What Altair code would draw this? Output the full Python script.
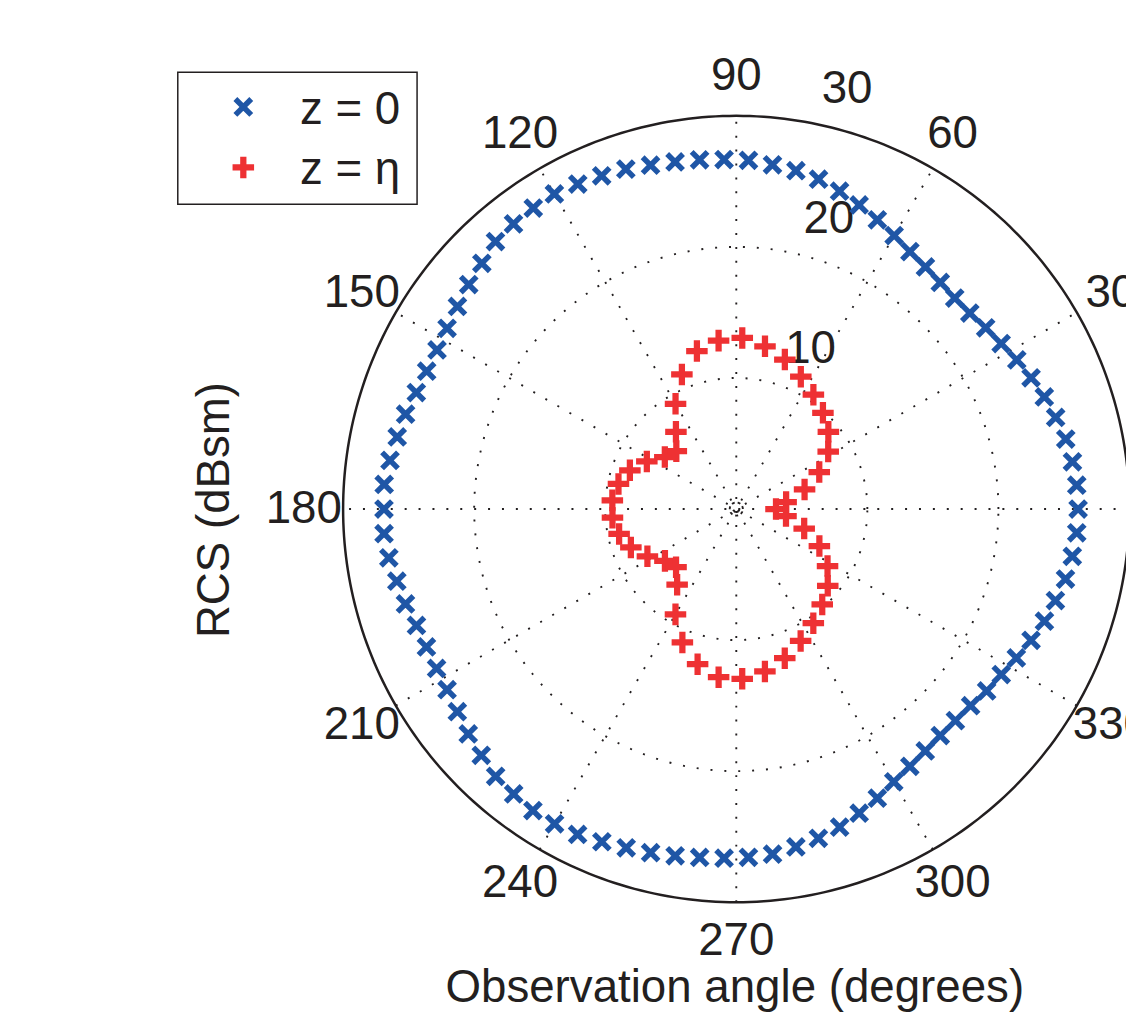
import altair as alt
import pandas as pd

# ---------------- data ----------------
angle_blue = list(range(0, 360, 4))
rcs_blue = [
    26.08, 26.04, 25.90, 25.70, 25.35, 25.01, 24.62, 24.24, 23.83, 23.52,
    23.26, 23.17, 23.26, 23.44, 23.69, 24.09, 24.55, 25.02, 25.50, 25.94,
    26.21, 26.41, 26.62, 26.68, 26.79, 26.89, 27.04, 27.27, 27.42, 27.59,
    27.76, 27.70, 27.61, 27.46, 26.99, 26.65, 26.30, 26.02, 25.86, 25.86,
    25.98, 26.25, 26.45, 26.68, 26.93, 26.88, 26.94, 26.77, 26.48, 26.26,
    25.97, 25.88, 25.90, 26.02, 26.31, 26.70, 27.05, 27.44, 27.59, 27.75,
    27.73, 27.62, 27.38, 27.18, 27.02, 26.87, 26.73, 26.66, 26.59, 26.48,
    26.18, 25.89, 25.52, 25.03, 24.55, 24.03, 23.68, 23.42, 23.26, 23.24,
    23.34, 23.61, 23.84, 24.20, 24.62, 25.02, 25.33, 25.68, 25.89, 26.04,
]
angle_red = list(range(0, 360, 8))
rcs_red = [
    3.03, 3.84, 5.42, 6.93, 8.27, 9.17, 9.88, 10.52, 11.23, 11.99,
    12.61, 13.06, 12.92, 12.42, 11.08, 9.27, 7.48, 6.36, 6.74, 7.73,
    8.64, 9.19, 9.48, 9.47, 9.14, 8.56, 7.68, 6.73, 6.39, 7.33,
    9.28, 10.98, 12.20, 12.90, 12.96, 12.58, 11.97, 11.20, 10.51, 9.80,
    9.11, 8.21, 6.94, 5.39, 3.83,
]
series_labels = ["z = 0", "z = \u03b7"]
ring_values = [0.5, 10, 20]
outer_ring = 30
spoke_angles = [30, 60, 90, 120, 150, 180]
angle_labels = [0, 30, 60, 90, 120, 150, 180, 210, 240, 270, 300, 330]
ring_label_values = [10, 20, 30]
xlabel = "Observation angle (degrees)"
ylabel = "RCS (dBsm)"

# ---------------- style ----------------
BLUE = "#1f56a6"
RED = "#ee3133"
INK = "#231f20"
FONT = "Liberation Sans"
FS = 46
PX = 13.2                      # pixels per dB unit
W, H = 1126, 1011
CX, CY = 733.5, 501            # centre of the polar plot in view pixels
XPATH = "M-1,-1L1,1M-1,1L1,-1"
PPATH = "M-1,0L1,0M0,-1L0,1"

xsc = alt.Scale(domain=[-CX / PX, (W - CX) / PX], nice=False, zero=False)
ysc = alt.Scale(domain=[-(H - CY) / PX, CY / PX], nice=False, zero=False)


def X(f="x"):
    return alt.X(f"{f}:Q", scale=xsc, axis=None)


def Y(f="y"):
    return alt.Y(f"{f}:Q", scale=ysc, axis=None)


def ring(r, **style):
    return (
        alt.Chart(alt.sequence(0, 361, 1, as_="t"))
        .transform_calculate(
            x=f"{r}*cos(datum.t*PI/180)", y=f"{r}*sin(datum.t*PI/180)"
        )
        .mark_line(color=INK, **style)
        .encode(x=X(), y=Y(), order="t:Q")
    )


layers = []
for rv in ring_values:
    dash = [3, 3] if rv < 1 else [2, 12]
    layers.append(ring(rv, strokeDash=dash, strokeWidth=1.9))
layers.append(ring(outer_ring, strokeWidth=2.5))

spokes = (
    alt.Chart(pd.DataFrame({"a": spoke_angles}))
    .transform_calculate(
        x=f"-{outer_ring}*cos(datum.a*PI/180)",
        x2=f"{outer_ring}*cos(datum.a*PI/180)",
        y=f"-{outer_ring}*sin(datum.a*PI/180)",
        y2=f"{outer_ring}*sin(datum.a*PI/180)",
    )
    .mark_rule(color=INK, strokeDash=[2, 12], strokeWidth=1.9)
    .encode(x=X(), x2="x2:Q", y=Y(), y2="y2:Q")
)
layers.append(spokes)

ang_text = (
    alt.Chart(pd.DataFrame({"a": angle_labels}))
    .transform_calculate(
        x=f"{1.1 * outer_ring}*cos(datum.a*PI/180)",
        y=f"{1.1 * outer_ring}*sin(datum.a*PI/180)",
        label="toString(datum.a)",
    )
    .mark_text(font=FONT, fontSize=FS, align="center", baseline="middle", color=INK)
    .encode(x=X(), y=Y(), text="label:N")
)
layers.append(ang_text)

ring_text = (
    alt.Chart(pd.DataFrame({"r": ring_label_values}))
    .transform_calculate(
        x="(datum.r+0.5)*cos(82*PI/180)",
        y="(datum.r+0.5)*sin(82*PI/180)",
        label="toString(datum.r)",
    )
    .mark_text(font=FONT, fontSize=FS, align="left", baseline="bottom", dx=30, color=INK)
    .encode(x=X(), y=Y(), text="label:N")
)
layers.append(ring_text)

blue_df = pd.DataFrame({"angle": angle_blue, "rcs": rcs_blue})
red_df = pd.DataFrame({"angle": angle_red, "rcs": rcs_red})
calc = dict(
    x="datum.rcs*cos(datum.angle*PI/180)", y="datum.rcs*sin(datum.angle*PI/180)"
)
pts_blue = (
    alt.Chart(blue_df)
    .transform_calculate(**calc)
    .mark_point(shape=XPATH, filled=False, size=256, strokeWidth=5.5, color=BLUE, opacity=1)
    .encode(x=X(), y=Y())
)
pts_red = (
    alt.Chart(red_df)
    .transform_calculate(**calc)
    .mark_point(shape=PPATH, filled=False, size=470, strokeWidth=6.3, color=RED, opacity=1)
    .encode(x=X(), y=Y())
)
layers += [pts_blue, pts_red]

one = pd.DataFrame({"k": [0]})
leg_box = alt.Chart(one).mark_rect(fill="white", stroke=INK, strokeWidth=1.5).encode(
    x=alt.value(171), x2=alt.value(412), y=alt.value(61), y2=alt.value(194)
)
leg_b = alt.Chart(one).mark_point(
    shape=XPATH, filled=False, size=256, strokeWidth=5.5, color=BLUE, opacity=1
).encode(x=alt.value(237), y=alt.value(96))
leg_r = alt.Chart(one).mark_point(
    shape=PPATH, filled=False, size=470, strokeWidth=6.3, color=RED, opacity=1
).encode(x=alt.value(237), y=alt.value(157))
leg_t0 = alt.Chart(pd.DataFrame({"lab": [series_labels[0]]})).mark_text(
    font=FONT, fontSize=FS, align="left", baseline="alphabetic", color=INK
).encode(x=alt.value(294), y=alt.value(113.7), text="lab:N")
leg_t1 = alt.Chart(pd.DataFrame({"lab": [series_labels[1]]})).mark_text(
    font=FONT, fontSize=FS, align="left", baseline="alphabetic", color=INK
).encode(x=alt.value(294), y=alt.value(173.7), text="lab:N")
layers += [leg_box, leg_b, leg_r, leg_t0, leg_t1]

xl = alt.Chart(pd.DataFrame({"t": [xlabel]})).mark_text(
    font=FONT, fontSize=FS, align="center", baseline="alphabetic", color=INK
).encode(x=alt.value(732), y=alt.value(997), text="t:N")
yl = alt.Chart(pd.DataFrame({"t": [ylabel]})).mark_text(
    font=FONT, fontSize=FS, align="center", baseline="middle", angle=270, color=INK
).encode(x=alt.value(209), y=alt.value(502), text="t:N")
layers += [xl, yl]

chart = (
    alt.layer(*layers)
    .properties(width=W, height=H, autosize=alt.AutoSizeParams(type="none"), padding=0,
                background="white")
    .configure_view(stroke=None)
)
chart.save("out.html", embed_options={"renderer": "svg", "actions": False})
